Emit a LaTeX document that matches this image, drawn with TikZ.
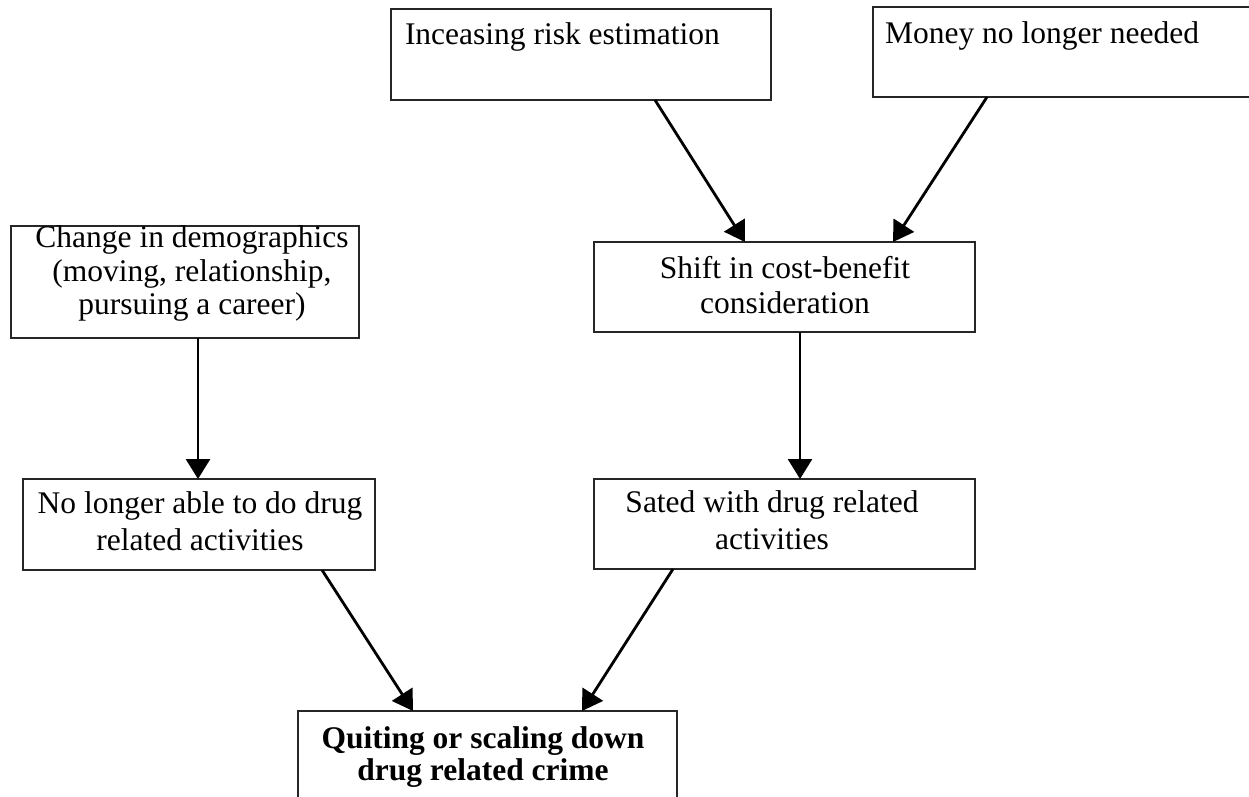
\documentclass[tikz,border=0pt]{standalone}
\usepackage{fontspec}
\setmainfont{Liberation Serif}
\usetikzlibrary{arrows.meta}
\begin{document}
\begin{tikzpicture}[x=1pt,y=-1pt,
  box/.style={draw=black!85, line width=1.9pt, inner sep=0pt, outer sep=0pt},
  txt/.style={inner sep=0pt, outer sep=0pt, align=center, anchor=north},
  ltxt/.style={inner sep=0pt, outer sep=0pt, anchor=base west, font=\fontsize{31.5}{34}\selectfont},
  arr/.style={line width=2.8pt, -{Triangle[length=20pt,width=24pt]}}]
\useasboundingbox (0,0) rectangle (1249,796);
\clip (0,0) rectangle (1249,796);
% boxes
\node[box, minimum width=380pt, minimum height=91pt] (risk) at (581,54.5) {};
\node[box, minimum width=389pt, minimum height=90pt] (money) at (1067.5,52) {};
\node[box, minimum width=348pt, minimum height=112pt] (change) at (185,282) {};
\node[box, minimum width=381pt, minimum height=90pt] (shift) at (784.5,287) {};
\node[box, minimum width=352pt, minimum height=91pt] (nolonger) at (199,524.5) {};
\node[box, minimum width=381pt, minimum height=90pt] (sated) at (784.5,524) {};
\node[box, minimum width=379pt, minimum height=119pt] (quit) at (487.5,770.5) {};
% texts
\node[ltxt] (riskt) at (405,44.5) {Inceasing risk estimation};
\node[ltxt] (moneyt) at (885,43) {Money no longer needed};
\node[txt, font=\fontsize{31.5}{33.5}\selectfont] (changet) at (192,224.5)
  {\strut Change in demographics\\(moving, relationship,\\pursuing a career)};
\node[txt, font=\fontsize{31.5}{35}\selectfont] (shiftt) at (785,253.5)
  {\strut Shift in cost-benefit\\consideration};
\node[txt, font=\fontsize{31.5}{36.7}\selectfont] (nolongert) at (200,487.6)
  {\strut No longer able to do drug\\related activities};
\node[txt, font=\fontsize{31.5}{37}\selectfont] (satedt) at (772,486.8)
  {\strut Sated with drug related\\activities};
\node[txt, font=\fontsize{31.5}{30.5}\selectfont\bfseries] (quitt) at (483,727)
  {\strut Quiting or scaling down\\drug related crime};
% connectors
\draw[arr] ([xshift=74pt]risk.south) -- ([xshift=-39.5pt]shift.north);
\draw[arr] ([xshift=-80.5pt]money.south) -- ([xshift=108.5pt]shift.north);
\draw[arr] ([xshift=13pt]change.south) -- ([xshift=-1pt]nolonger.north);
\draw[arr] ([xshift=15.5pt]shift.south) -- ([xshift=15.5pt]sated.north);
\draw[arr] ([xshift=123pt]nolonger.south) -- ([xshift=-74.5pt]quit.north);
\draw[arr] ([xshift=-111.5pt]sated.south) -- ([xshift=94.5pt]quit.north);
\end{tikzpicture}
\end{document}
